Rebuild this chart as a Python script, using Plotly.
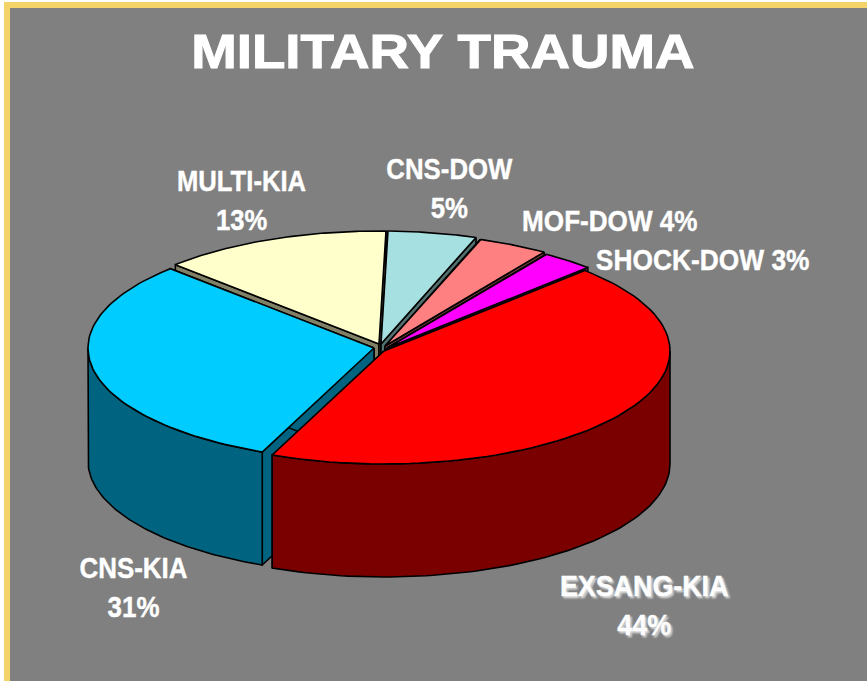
import json
import numpy as np
import plotly.graph_objects as go

# ---- data ----
categories = ["EXSANG-KIA", "CNS-KIA", "MULTI-KIA", "CNS-DOW", "MOF-DOW", "SHOCK-DOW"]
percent = [44, 31, 13, 5, 4, 3]
title_text = "MILITARY TRAUMA"

# ---- styles / geometry ----
W, H = 867, 681
top_colors = ["#ff0000", "#00ccff", "#ffffcc", "#a6e0e0", "#ff8080", "#ff00ff"]
wall_colors = ["#7a0000", "#00637f", "#808066", "#537070", "#804040", "#800080"]
centres = [(384, 351), (374, 348), (379, 344), (381, 344), (385, 346), (387, 348)]
RX, RY, DEPTH = 286, 113, 113
START_DEG = 44.6
label_xy = [(644, 605), (133, 587), (241, 200), (449, 188), (610, 220), (702, 259)]
label_lines = [True, True, True, True, False, False]
label_shadow = [True, False, False, False, False, False]
# horizontal squeeze standing in for the narrow bold face (title first, then labels)
text_scale = [1.14, 0.895, 0.865, 0.855, 0.86, 0.87, 0.878]
draw_order = [2, 3, 4, 5, 1, 0]


def pt(c, t):
    return c[0] + RX * np.sin(t), c[1] - RY * np.cos(t)


def poly(fig, xs, ys, color):
    fig.add_trace(go.Scatter(x=list(xs) + [xs[0]], y=list(ys) + [ys[0]], mode="lines",
                             fill="toself", fillcolor=color,
                             line=dict(color="black", width=1.6),
                             hoverinfo="skip", showlegend=False))


fig = go.Figure()

shares = np.array(percent) / sum(percent) * 360
starts = START_DEG + np.concatenate([[0], np.cumsum(shares)[:-1]])
ends = starts + shares

for i in draw_order:
    c = centres[i]
    t0, t1 = np.radians(starts[i]), np.radians(ends[i])
    # cut faces
    for t in (t0, t1):
        x, y = pt(c, t)
        poly(fig, [c[0], x, x, c[0]], [c[1], y, y + DEPTH, c[1] + DEPTH], wall_colors[i])
    # outer wall (front half of the rim only)
    lo, hi = max(t0, np.pi / 2), min(t1, 3 * np.pi / 2)
    if hi > lo:
        ts = np.linspace(lo, hi, 80)
        x, y = pt(c, ts)
        poly(fig, np.r_[x, x[::-1]], np.r_[y, y[::-1] + DEPTH], wall_colors[i])
    # top
    ts = np.linspace(t0, t1, 80)
    x, y = pt(c, ts)
    poly(fig, np.r_[c[0], x], np.r_[c[1], y], top_colors[i])

annotations = [dict(x=442.5, y=51, text=title_text, showarrow=False, xanchor="center", yanchor="middle",
                    font=dict(family="Liberation Sans", size=48, color="white", weight="bold"))]
for name, p, xy, two, sh in zip(categories, percent, label_xy, label_lines, label_shadow):
    font = dict(family="Liberation Sans", size=30, color="white", weight="bold")
    if sh:
        font["shadow"] = "2px 2px 2px rgba(235,235,235,0.8)"
    annotations.append(dict(x=xy[0], y=xy[1], text=f"{name}<br>{p}%" if two else f"{name} {p}%",
                            showarrow=False, xanchor="center", yanchor="middle", font=font))

shapes = [
    dict(type="rect", x0=0, x1=W, y0=0, y1=H, fillcolor="#808080", line_width=0, layer="below"),
    dict(type="rect", x0=0, x1=W, y0=0, y1=2, fillcolor="#ffffff", line_width=0, layer="below"),
    dict(type="rect", x0=0, x1=4, y0=0, y1=H, fillcolor="#ffffff", line_width=0, layer="below"),
    dict(type="rect", x0=4, x1=W, y0=2, y1=8, fillcolor="#f4d46a", line_width=0, layer="below"),
    dict(type="rect", x0=4, x1=10, y0=2, y1=H, fillcolor="#f4d46a", line_width=0, layer="below"),
]

fig.update_layout(
    width=W, height=H, margin=dict(l=0, r=0, t=0, b=0),
    paper_bgcolor="#808080", plot_bgcolor="#808080",
    xaxis=dict(range=[0, W], visible=False, fixedrange=True),
    yaxis=dict(range=[H, 0], visible=False, fixedrange=True),
    shapes=shapes, annotations=annotations, showlegend=False,
)
post = """
document.body.style.margin='0';document.body.style.overflow='hidden';
var sc=%s;
document.querySelectorAll('.annotation-text').forEach(function(el,i){
  el.style.transformBox='fill-box';el.style.transformOrigin='center';
  el.style.transform='scaleX('+sc[i]+')';
  el.style.stroke='white';el.style.strokeWidth=(i==0)?'1px':'0.4px';
});
""" % json.dumps(text_scale)
fig.write_html("out.html", config={"displayModeBar": False}, post_script=post)
